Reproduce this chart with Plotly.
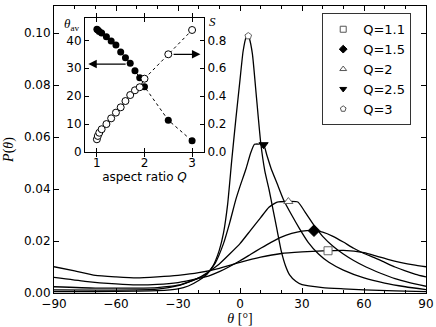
import numpy as np
import plotly.graph_objects as go

# ---------------- data: main panel P(theta) ----------------
theta_q11 = [-90, -80, -70, -60, -50, -40, -30, -20, -10, 0, 10, 20, 30, 40, 50, 60, 66, 72, 78, 84, 90]
p_q11 = [0.0101, 0.0085, 0.0068, 0.0062, 0.0058, 0.0062, 0.0068, 0.0078, 0.0095, 0.0118, 0.0138, 0.0152,
         0.0158, 0.0162, 0.0164, 0.0155, 0.0142, 0.0128, 0.0117, 0.0108, 0.0101]

theta_q15 = [-90, -75, -60, -50, -40, -30, -20, -15, -10, -5, 0, 5, 10, 15, 20, 25, 30, 35, 40, 45, 50, 55,
             60, 65, 70, 75, 80, 85, 90]
p_q15 = [0.0060, 0.0045, 0.0035, 0.0031, 0.0033, 0.0040, 0.0056, 0.0066, 0.0082, 0.0102, 0.0124, 0.0148,
         0.0172, 0.0195, 0.0215, 0.0229, 0.0238, 0.0241, 0.0234, 0.0218, 0.0196, 0.0172, 0.0152, 0.0136,
         0.0118, 0.0100, 0.0085, 0.0072, 0.0062]

theta_q2 = [-90, -70, -50, -40, -30, -25, -20, -15, -10, -5, 0, 5, 10, 14, 18, 23.4, 28, 32, 36, 40, 45, 50,
            55, 61, 68, 75, 82, 90]
p_q2 = [0.0024, 0.0019, 0.0019, 0.0021, 0.0030, 0.0042, 0.0058, 0.0083, 0.0112, 0.0150, 0.0190, 0.0240,
        0.0290, 0.0330, 0.0350, 0.0352, 0.0350, 0.0305, 0.0258, 0.0218, 0.0180, 0.0150, 0.0125, 0.0100,
        0.0076, 0.0055, 0.0040, 0.0026]

theta_q25 = [-90, -70, -50, -40, -30, -25, -20, -16, -12, -8, -5, -2, 0, 3, 5, 7, 9, 11.3, 13, 15, 18, 21,
             25, 29, 33, 38, 43, 50, 60, 70, 80, 90]
p_q25 = [0.0012, 0.0011, 0.0012, 0.0015, 0.0028, 0.0042, 0.0058, 0.0075, 0.0115, 0.0190, 0.0270, 0.0360,
         0.0410, 0.0480, 0.0535, 0.0572, 0.0573, 0.0573, 0.0530, 0.0480, 0.0420, 0.0360, 0.0300, 0.0245,
         0.0195, 0.0150, 0.0118, 0.0088, 0.0058, 0.0038, 0.0024, 0.0013]

theta_q3 = [-90, -70, -50, -40, -30, -25, -20, -16, -13, -10, -8, -6, -4, -2, 0, 1.5, 3, 3.8, 4.5, 6, 8, 10,
            12, 14, 16, 18, 20, 22, 24, 27, 30, 40, 50, 60, 75, 90]
p_q3 = [0.0005, 0.0005, 0.0007, 0.0009, 0.0016, 0.0027, 0.0048, 0.0072, 0.0105, 0.0165, 0.0230, 0.0340,
        0.0510, 0.0670, 0.0820, 0.0930, 0.0985, 0.0992, 0.0980, 0.0920, 0.0750, 0.0580, 0.0470, 0.0400,
        0.0320, 0.0240, 0.0160, 0.0105, 0.0070, 0.0045, 0.0032, 0.0021, 0.0016, 0.0012, 0.0008, 0.0005]

# ---------------- data: inset ----------------
aspect_q = [1.0, 1.02, 1.05, 1.1, 1.2, 1.3, 1.4, 1.5, 1.6, 1.7, 1.8, 1.9, 2.0, 2.5, 3.0]
theta_av = [44.0, 43.7, 43.2, 42.6, 41.3, 39.8, 38.3, 35.8, 33.8, 31.8, 29.1, 26.6, 23.4, 11.4, 4.0]
order_s = [0.091, 0.115, 0.138, 0.163, 0.200, 0.241, 0.282, 0.320, 0.365, 0.408, 0.442, 0.464, 0.525,
           0.700, 0.874]

x_ticks = [-90, -60, -30, 0, 30, 60, 90]
x_ticktext = ["\u221290", "\u221260", "\u221230", "0", "30", "60", "90"]

series = [
    ("Q=1.1", 1.1, theta_q11, p_q11, "square-open", 8),
    ("Q=1.5", 1.5, theta_q15, p_q15, "diamond", 9),
    ("Q=2", 2.0, theta_q2, p_q2, "triangle-up-open", 8),
    ("Q=2.5", 2.5, theta_q25, p_q25, "triangle-down", 8),
    ("Q=3", 3.0, theta_q3, p_q3, "pentagon-open", 7),
]

fig = go.Figure()

for name, q, th, p, sym, size in series:
    fig.add_trace(go.Scatter(x=th, y=p, mode="lines", line=dict(color="black", width=1.3, shape="spline",
                             smoothing=0.5), showlegend=False, hoverinfo="skip"))
for name, q, th, p, sym, size in series:
    tav = theta_av[aspect_q.index(q)]
    pm = float(np.interp(tav, th, p))
    open_ = sym.endswith("open")
    fig.add_trace(go.Scatter(x=[tav], y=[pm], mode="markers", showlegend=False,
                             marker=dict(symbol=sym.replace("-open", ""), size=size,
                                         color="white" if open_ else "black",
                                         line=dict(color="#666666" if open_ else "black", width=1))))
for name, q, th, p, sym, size in series:
    open_ = sym.endswith("open")
    fig.add_trace(go.Scatter(x=[None], y=[None], mode="markers", name=name,
                             marker=dict(symbol=sym.replace("-open", ""), size=6,
                                         color="white" if open_ else "black",
                                         line=dict(color="#555555" if open_ else "black", width=1))))

# inset
fig.add_trace(go.Scatter(x=aspect_q, y=theta_av, xaxis="x2", yaxis="y2", mode="lines+markers",
                         line=dict(color="black", width=1, dash="dot"),
                         marker=dict(symbol="circle", size=7, color="black"), showlegend=False))
fig.add_trace(go.Scatter(x=aspect_q, y=order_s, xaxis="x2", yaxis="y3", mode="lines+markers",
                         line=dict(color="black", width=1, dash="dot"),
                         marker=dict(symbol="circle", size=7, color="white",
                                     line=dict(color="black", width=1)), showlegend=False))

tickfont = dict(family="DejaVu Sans", size=12, color="black")
axis_common = dict(showline=True, linecolor="black", linewidth=1, mirror="allticks", ticks="inside",
                   showgrid=False, zeroline=False, tickfont=tickfont, tickcolor="black", automargin=False)
inset_y = dict(showline=True, linecolor="black", linewidth=1, ticks="inside", showgrid=False,
               zeroline=False, tickfont=tickfont, tickcolor="black", automargin=False, ticklen=4)

fig.update_layout(
    width=436, height=327, margin=dict(l=54, r=10, t=6, b=34, autoexpand=False),
    paper_bgcolor="white", plot_bgcolor="white",
    font=dict(family="DejaVu Sans", color="black"),
    xaxis=dict(range=[-90, 90], tickvals=x_ticks, ticktext=x_ticktext, ticklen=5,
               minor=dict(dtick=10, ticklen=3, ticks="inside", tickcolor="black"),
               title=dict(text="<i>\u03b8</i> [\u00b0]",
                          font=dict(family="Liberation Serif", size=14, color="black"), standoff=2),
               **axis_common),
    yaxis=dict(range=[0, 0.1104], dtick=0.02, tickformat=".2f", ticklen=5,
               title=dict(text="<i>P</i>(<i>\u03b8</i>)",
                          font=dict(family="Liberation Serif", size=14, color="black"), standoff=6),
               **axis_common),
    xaxis2=dict(domain=[0.0833, 0.4032], anchor="y2", range=[0.75, 3.25], tickvals=[1, 2, 3], ticklen=4,
                title=dict(text="aspect ratio <i>Q</i>",
                           font=dict(family="DejaVu Sans", size=12, color="black"), standoff=0),
                **axis_common),
    yaxis2=dict(domain=[0.4913, 0.9582], anchor="x2", range=[0, 48], tickvals=[0, 10, 20, 30, 40], **inset_y),
    yaxis3=dict(overlaying="y2", anchor="x2", side="right", range=[0, 0.96],
                tickvals=[0, 0.2, 0.4, 0.6, 0.8], tickformat=".1f", **inset_y),
    legend=dict(x=0.721, y=0.9746, xanchor="left", yanchor="top", bgcolor="white", bordercolor="#333333",
                borderwidth=1, tracegroupgap=0, font=dict(family="DejaVu Sans", size=13, color="black")),
    showlegend=True,
)

fig.add_annotation(xref="paper", yref="paper", x=0.047, y=0.937, xanchor="center", yanchor="middle",
                   text="<i>\u03b8</i><sub>av</sub>",
                   showarrow=False, font=dict(family="Liberation Serif", size=13, color="black"))
fig.add_annotation(xref="paper", yref="paper", x=0.426, y=0.946, xanchor="center", yanchor="middle",
                   text="<i>S</i>",
                   showarrow=False, font=dict(family="Liberation Serif", size=13, color="black"))
fig.add_annotation(xref="x2", yref="y2", axref="x2", ayref="y2", x=0.82, y=31.5, ax=1.635, ay=31.5,
                   text="", showarrow=True, arrowhead=2, arrowsize=1.3, arrowwidth=1.3, arrowcolor="black")
fig.add_annotation(xref="x2", yref="y2", axref="x2", ayref="y2", x=3.175, y=35.0, ax=2.58, ay=35.0,
                   text="", showarrow=True, arrowhead=2, arrowsize=1.3, arrowwidth=1.3, arrowcolor="black")

fig.write_html("out.html", config={"displayModeBar": False},
               post_script="document.body.style.margin='0px';")
